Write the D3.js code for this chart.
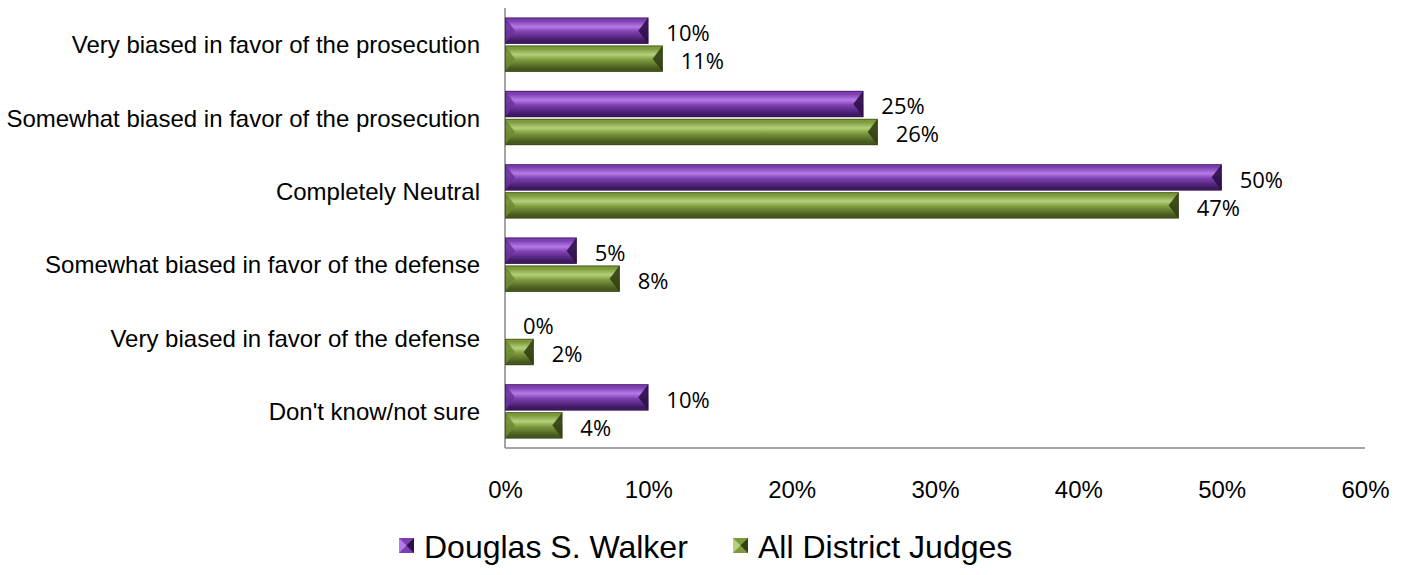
<!DOCTYPE html>
<html>
<head>
<meta charset="utf-8">
<script src="https://cdn.jsdelivr.net/npm/d3@7"></script>
<style>
  body { margin: 0; background: #fff; }
  .cat { font-family: Arial, "Liberation Sans", sans-serif; font-size: 24px; fill: #000; }
  .tick text { font-family: Arial, "Liberation Sans", sans-serif; font-size: 24px; fill: #000; }
  .val { font-family: "Open Sans", "Noto Sans", sans-serif; font-size: 22px; fill: #000; }
  .leg { font-family: Arial, "Liberation Sans", sans-serif; font-size: 32px; fill: #000; }
</style>
</head>
<body>
<div id="chart"></div>
<script>
// data
var categories = [
  "Very biased in favor of the prosecution",
  "Somewhat biased in favor of the prosecution",
  "Completely Neutral",
  "Somewhat biased in favor of the defense",
  "Very biased in favor of the defense",
  "Don't know/not sure"
];
var seriesNames = ["Douglas S. Walker", "All District Judges"];
var walker = [10, 25, 50, 5, 0, 10];
var allJudges = [11, 26, 47, 8, 2, 4];
var xTicks = [0, 10, 20, 30, 40, 50, 60];

var svgWidth = 1409;
var svgHeight = 575;
var margin = { top: 8, right: 44, bottom: 127, left: 505 };
var width = svgWidth - margin.left - margin.right;
var height = svgHeight - margin.top - margin.bottom;

var svg = d3.select("#chart").append("svg")
  .attr("width", svgWidth)
  .attr("height", svgHeight);

// colours for each series: light, mid, dark
var palettes = [
  { light: "#b57ae6", mid: "#7d3fb0", dark: "#3f1a63", left: "#6a3399", right: "#2e1049" },
  { light: "#b4d07a", mid: "#7c9a3c", dark: "#46581e", left: "#6d8a33", right: "#333f14" }
];

var defs = svg.append("defs");
palettes.forEach(function (p, i) {
  var g = defs.append("linearGradient")
    .attr("id", "grad" + i)
    .attr("x1", 0).attr("y1", 0).attr("x2", 0).attr("y2", 1);
  g.append("stop").attr("offset", "0%").attr("stop-color", p.mid);
  g.append("stop").attr("offset", "12%").attr("stop-color", p.mid);
  g.append("stop").attr("offset", "35%").attr("stop-color", p.light);
  g.append("stop").attr("offset", "55%").attr("stop-color", p.mid);
  g.append("stop").attr("offset", "88%").attr("stop-color", p.dark);
  g.append("stop").attr("offset", "100%").attr("stop-color", p.dark);
});

var chartGroup = svg.append("g")
  .attr("transform", `translate(${margin.left}, ${margin.top})`);

var xScale = d3.scaleLinear().domain([0, 60]).range([0, width]);
var yScale = d3.scaleBand().domain(categories).range([0, height]).paddingInner(0.26).paddingOuter(0.13);
var ySub = d3.scaleBand().domain([0, 1]).range([0, yScale.bandwidth()]).paddingInner(0.06);

// axes lines
chartGroup.append("line")
  .attr("x1", 0).attr("x2", 0).attr("y1", 0).attr("y2", height)
  .attr("stroke", "#868686").attr("stroke-width", 1.5);
chartGroup.append("line")
  .attr("x1", 0).attr("x2", width).attr("y1", height).attr("y2", height)
  .attr("stroke", "#868686").attr("stroke-width", 1.5);

// x tick labels
var bottomAxis = d3.axisBottom(xScale).tickValues(xTicks).tickSize(0).tickPadding(33)
  .tickFormat(function (d) { return d + "%"; });
var xAxis = chartGroup.append("g")
  .attr("transform", `translate(0, ${height})`)
  .call(bottomAxis);
xAxis.select(".domain").remove();

// category labels
chartGroup.selectAll(".cat")
  .data(categories)
  .enter()
  .append("text")
  .attr("class", "cat")
  .attr("x", -25)
  .attr("y", d => yScale(d) + yScale.bandwidth() / 2)
  .attr("dy", "0.36em")
  .attr("text-anchor", "end")
  .text(d => d);

// bevelled bar
function drawBar(g, x0, y0, w, h, i) {
  var p = palettes[i];
  if (w <= 0) return;
  g.append("rect")
    .attr("x", x0).attr("y", y0).attr("width", w).attr("height", h)
    .attr("fill", "url(#grad" + i + ")");
  var b = Math.min(10, w / 2);
  g.append("polygon")
    .attr("points", [[x0, y0], [x0 + b, y0 + h / 2], [x0, y0 + h]].join(" "))
    .attr("fill", p.left).attr("opacity", 0.85);
  g.append("polygon")
    .attr("points", [[x0 + w, y0], [x0 + w - b, y0 + h / 2], [x0 + w, y0 + h]].join(" "))
    .attr("fill", p.right).attr("opacity", 0.9);
  g.append("rect")
    .attr("x", x0 + 0.5).attr("y", y0 + 0.5).attr("width", w - 1).attr("height", h - 1)
    .attr("fill", "none").attr("stroke", p.right).attr("stroke-width", 1).attr("opacity", 0.6);
}

var allSeries = [walker, allJudges];
allSeries.forEach(function (vals, i) {
  var g = chartGroup.append("g");
  vals.forEach(function (v, j) {
    var y0 = yScale(categories[j]) + ySub(i);
    drawBar(g, xScale(0), y0, xScale(v) - xScale(0), ySub.bandwidth(), i);
    g.append("text")
      .attr("class", "val")
      .attr("x", xScale(v) + 18)
      .attr("y", y0 + ySub.bandwidth() / 2 + 2.5)
      .attr("dy", "0.36em")
      .text(v + "%");
  });
});

// legend
var legendX = [399, 733];
var legend = svg.append("g");
seriesNames.forEach(function (name, i) {
  var p = palettes[i];
  var lx = legendX[i], ly = 538, s = 15;
  legend.append("rect").attr("x", lx).attr("y", ly).attr("width", s).attr("height", s).attr("fill", p.mid);
  legend.append("polygon").attr("points", [[lx, ly], [lx + s / 2, ly + s / 2], [lx, ly + s]].join(" ")).attr("fill", p.light);
  legend.append("polygon").attr("points", [[lx + s, ly], [lx + s / 2, ly + s / 2], [lx + s, ly + s]].join(" ")).attr("fill", p.right);
  legend.append("text")
    .attr("class", "leg")
    .attr("x", lx + 25)
    .attr("y", 558)
    .text(name);
});
</script>
</body>
</html>
